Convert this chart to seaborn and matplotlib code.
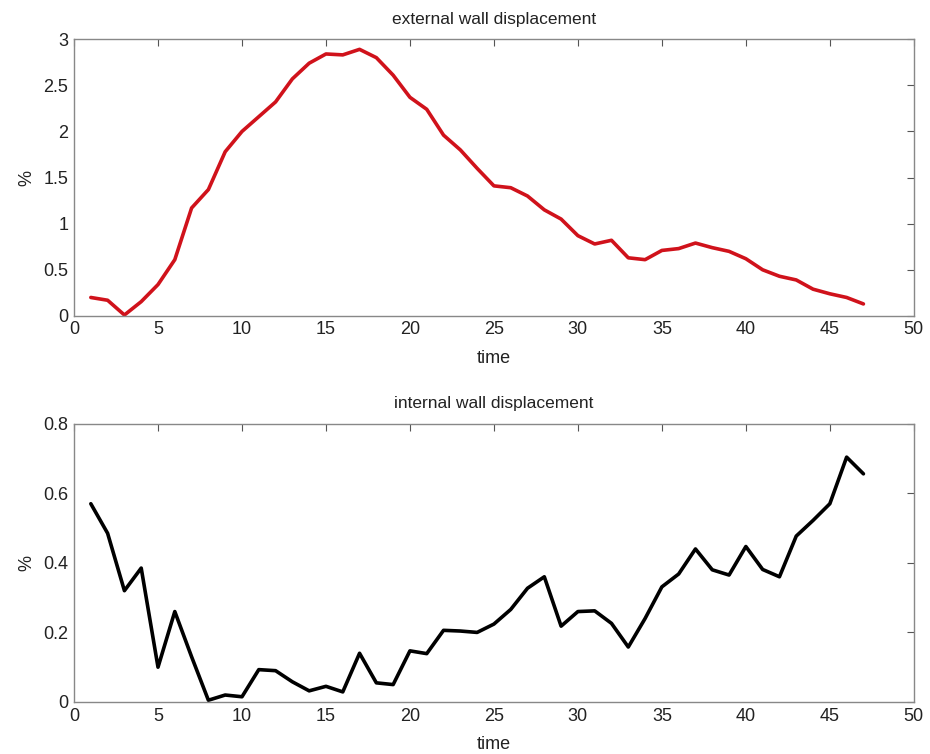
import numpy as np
import pandas as pd
import matplotlib
matplotlib.use("Agg")
import matplotlib.pyplot as plt
import seaborn as sns

# time steps
time = list(range(1, 48))

# external wall displacement (%)
external = [0.20, 0.17, 0.01, 0.155, 0.34, 0.61, 1.17, 1.37, 1.78, 2.00,
            2.16, 2.32, 2.57, 2.74, 2.84, 2.83, 2.89, 2.80, 2.61, 2.37,
            2.24, 1.96, 1.80, 1.60, 1.41, 1.39, 1.30, 1.15, 1.05, 0.87,
            0.78, 0.82, 0.63, 0.61, 0.71, 0.73, 0.79, 0.74, 0.70, 0.62,
            0.50, 0.43, 0.39, 0.29, 0.24, 0.20, 0.13]

# internal wall displacement (%)
internal = [0.57, 0.485, 0.32, 0.385, 0.10, 0.26, 0.13, 0.005, 0.02, 0.015,
            0.093, 0.09, 0.058, 0.032, 0.045, 0.029, 0.14, 0.055, 0.05, 0.147,
            0.139, 0.206, 0.204, 0.20, 0.224, 0.266, 0.327, 0.36, 0.218, 0.26,
            0.262, 0.226, 0.158, 0.24, 0.331, 0.368, 0.44, 0.38, 0.365, 0.447,
            0.381, 0.36, 0.477, 0.522, 0.57, 0.704, 0.656]

x_ticks = [0, 5, 10, 15, 20, 25, 30, 35, 40, 45, 50]
top_yticks = [0, 0.5, 1, 1.5, 2, 2.5, 3]
top_ylabels = ["0", "0.5", "1", "1.5", "2", "2.5", "3"]
bottom_yticks = [0, 0.2, 0.4, 0.6, 0.8]
bottom_ylabels = ["0", "0.2", "0.4", "0.6", "0.8"]

sns.set_theme(style="white")
plt.rcParams["font.family"] = ["Liberation Sans Narrow", "Liberation Sans", "DejaVu Sans"]

df = pd.DataFrame({"time": time, "external": external, "internal": internal})

fig = plt.figure(figsize=(9.3, 7.54), dpi=100)
ax1 = fig.add_axes([0.0796, 0.581, 0.903, 0.367])
ax2 = fig.add_axes([0.0796, 0.069, 0.903, 0.369])

sns.lineplot(data=df, x="time", y="external", ax=ax1, color="#d0121b", linewidth=2.6)
sns.lineplot(data=df, x="time", y="internal", ax=ax2, color="black", linewidth=2.6)

panels = [
    (ax1, "external wall displacement", 3, top_yticks, top_ylabels),
    (ax2, "internal wall displacement", 0.8, bottom_yticks, bottom_ylabels),
]
for ax, title, ymax, yt, yl in panels:
    ax.set_xlim(0, 50)
    ax.set_ylim(0, ymax)
    ax.set_xticks(x_ticks)
    ax.set_xticklabels([str(t) for t in x_ticks])
    ax.set_yticks(yt)
    ax.set_yticklabels(yl)
    ax.set_title(title, fontsize=12.5, pad=11, color="#222222")
    ax.set_xlabel("time", fontsize=13, labelpad=8, color="#222222")
    ax.set_ylabel("%", fontsize=13, labelpad=6, color="#222222")
    ax.tick_params(direction="in", length=5, width=0.8, colors="#555555",
                   labelcolor="#222222", labelsize=13, top=True, right=True,
                   pad=4)
    for s in ax.spines.values():
        s.set_visible(True)
        s.set_color("#888888")
        s.set_linewidth(1.0)

fig.savefig("out.png", dpi=100, facecolor="white")
